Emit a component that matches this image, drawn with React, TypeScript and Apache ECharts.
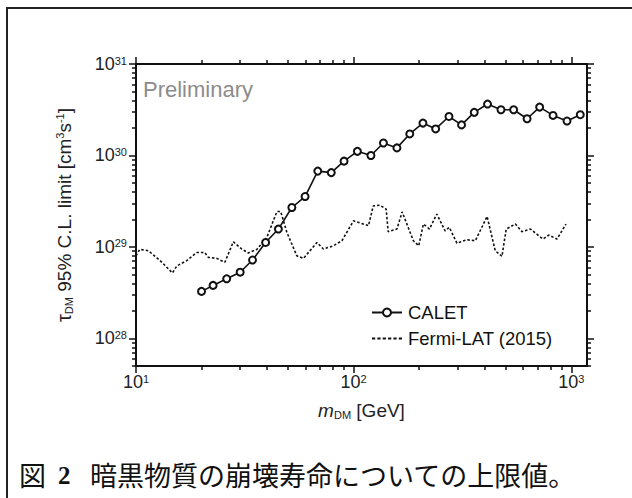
import React, { useEffect, useRef } from "react";
import * as echarts from "echarts";

// CALET 95% C.L. lower limit on DM lifetime
const calletMass = [20, 22.6, 26.1, 30.1, 34.3, 39.4, 45.1, 52.0, 59.8, 68.4, 78.9, 90.3, 104, 120, 137, 158, 181, 208, 238, 274, 313, 358, 412, 475, 543, 626, 715, 824, 955, 1099];
const calletLimit = [3.27e28, 3.8e28, 4.49e28, 5.3e28, 7.2e28, 1.12e29, 1.57e29, 2.7e29, 3.56e29, 6.75e29, 6.5e29, 8.67e29, 1.11e30, 1.0e30, 1.37e30, 1.21e30, 1.72e30, 2.26e30, 1.95e30, 2.67e30, 2.16e30, 2.96e30, 3.65e30, 3.16e30, 3.16e30, 2.52e30, 3.38e30, 2.74e30, 2.38e30, 2.79e30];

// Fermi-LAT (2015)
const fermiMass = [10, 10.4, 11.4, 12.9, 14.7, 15.4, 17.1, 19.0, 20.7, 21.5, 23.5, 25.6, 28.0, 30.6, 32.8, 35.9, 39.9, 44.4, 46.2, 49.3, 54.8, 58.8, 67.8, 72.6, 80.7, 88.3, 99.8, 117, 123, 132, 141, 144, 158, 167, 188, 199, 209, 223, 241, 263, 275, 298, 331, 362, 388, 410, 447, 480, 502, 553, 593, 648, 741, 787, 859, 945];
const fermiLimit = [8.0e28, 9.4e28, 9.1e28, 7.1e28, 5.2e28, 6.2e28, 7.1e28, 8.7e28, 8.7e28, 7.7e28, 7.5e28, 6.8e28, 1.14e29, 9.5e28, 8.6e28, 9.4e28, 1.27e29, 2.44e29, 2.44e29, 1.45e29, 8.0e28, 7.5e28, 1.12e29, 9.5e28, 1.03e29, 1.17e29, 1.93e29, 1.71e29, 2.81e29, 2.86e29, 2.59e29, 1.47e29, 1.57e29, 2.42e29, 1.17e29, 1.03e29, 1.78e29, 1.57e29, 2.29e29, 1.5e29, 1.64e29, 1.1e29, 1.2e29, 1.17e29, 1.64e29, 2.16e29, 9.1e28, 7.9e28, 1.57e29, 1.78e29, 1.47e29, 1.57e29, 1.22e29, 1.35e29, 1.22e29, 1.78e29];

const xRange = [10, 1180];
const yRange = [5e27, 1e31];
const xDecades = [1, 2, 3];
const yDecades = [28, 29, 30, 31];

const seriesNames = ["CALET", "Fermi-LAT (2015)"];

const FONT = "'Liberation Sans', Arial, sans-serif";
const DOTTED_ICON =
  "path://M0,0h3v2h-3z M5,0h3v2h-3z M10,0h3v2h-3z M15,0h3v2h-3z M20,0h3v2h-3z M25,0h3v2h-3z";

function minorTicks(lo: number, hi: number): number[] {
  const out: number[] = [];
  for (let d = Math.floor(lo) - 1; d <= Math.ceil(hi); d++) {
    for (let k = 2; k <= 9; k++) {
      const v = d + Math.log10(k);
      if (v >= lo - 1e-9 && v <= hi + 1e-9) out.push(v);
    }
  }
  return out;
}

export default function App() {
  const ref = useRef<HTMLDivElement>(null);
  useEffect(() => {
    if (!ref.current) return;
    const chart = echarts.init(ref.current, null, { renderer: "svg" });
    const xmin = Math.log10(xRange[0]);
    const xmax = Math.log10(xRange[1]);
    const ymin = Math.log10(yRange[0]);
    const ymax = Math.log10(yRange[1]);
    const xMinor = minorTicks(xmin, xmax);
    const yMinor = minorTicks(ymin, ymax);
    const supRich = {
      base: { fontSize: 18, fontFamily: FONT, color: "#222" },
      sup: { fontSize: 11, fontFamily: FONT, color: "#222", verticalAlign: "top", padding: [0, 0, 6, 0] },
    };
    const axisLine = { show: true, lineStyle: { color: "#111", width: 2 } };
    const mkX = (pos: string, ticks: number[], len: number, labels: boolean) => ({
      type: "value",
      position: pos,
      min: xmin,
      max: xmax,
      axisLine,
      splitLine: { show: false },
      axisTick: { show: true, customValues: ticks, length: len, inside: false, lineStyle: { color: "#111", width: 1.5 } },
      axisLabel: labels
        ? {
            show: true,
            customValues: xDecades,
            margin: 7,
            formatter: (v: number) => `{base|10}{sup|${Math.round(v)}}`,
            rich: supRich,
          }
        : { show: false },
    });
    const mkY = (pos: string, ticks: number[], len: number, labels: boolean) => ({
      type: "value",
      position: pos,
      min: ymin,
      max: ymax,
      axisLine,
      splitLine: { show: false },
      axisTick: { show: true, customValues: ticks, length: len, inside: false, lineStyle: { color: "#111", width: 1.5 } },
      axisLabel: labels
        ? {
            show: true,
            customValues: yDecades,
            margin: 9,
            formatter: (v: number) => `{base|10}{sup|${Math.round(v)}}`,
            rich: supRich,
          }
        : { show: false },
    });
    const xMain: any = mkX("bottom", xDecades, 7, true);
    xMain.name = "{m|m}{sub|DM} [GeV]";
    xMain.nameLocation = "middle";
    xMain.nameGap = 35;
    xMain.nameTextStyle = {
      fontSize: 19,
      fontFamily: FONT,
      color: "#222",
      rich: {
        m: { fontSize: 19, fontFamily: FONT, fontStyle: "italic", color: "#222" },
        sub: { fontSize: 11, fontFamily: FONT, color: "#222", verticalAlign: "bottom" },
      },
    };
    const yMain: any = mkY("left", yDecades, 7, true);
    yMain.name = "{t|τ}{sub|DM} 95% C.L. limit [cm{sup|3}s{sup|-1}]";
    yMain.nameLocation = "middle";
    yMain.nameRotate = 90;
    yMain.nameGap = 62;
    yMain.nameTextStyle = {
      fontSize: 19,
      fontFamily: FONT,
      color: "#222",
      rich: {
        t: { fontSize: 20, fontFamily: FONT, color: "#222" },
        sub: { fontSize: 11, fontFamily: FONT, color: "#222", verticalAlign: "bottom" },
        sup: { fontSize: 11, fontFamily: FONT, color: "#222", verticalAlign: "top" },
      },
    };

    const option: any = {
      animation: false,
      backgroundColor: "#fff",
      grid: { left: 136, right: 45, top: 64, bottom: 132, containLabel: false },
      xAxis: [
        xMain,
        mkX("bottom", xMinor, 4, false),
        mkX("top", xDecades, 7, false),
        mkX("top", xMinor, 4, false),
      ],
      yAxis: [
        yMain,
        mkY("left", yMinor, 4, false),
        mkY("right", yDecades, 7, false),
        mkY("right", yMinor, 4, false),
      ],
      legend: {
        orient: "vertical",
        left: 366,
        top: 298,
        itemWidth: 30,
        itemHeight: 10,
        itemGap: 7,
        data: [
          { name: seriesNames[0] },
          { name: seriesNames[1], icon: DOTTED_ICON, itemStyle: { color: "#111" } },
        ],
        textStyle: { fontSize: 18.5, fontFamily: FONT, color: "#111", padding: [0, 0, 0, 1] },
      },
      series: [
        {
          name: seriesNames[0],
          type: "line",
          xAxisIndex: 0,
          yAxisIndex: 0,
          data: calletMass.map((m, i) => [Math.log10(m), Math.log10(calletLimit[i])]),
          symbol: "emptyCircle",
          symbolSize: 7,
          itemStyle: { color: "#111", borderWidth: 1.3 },
          lineStyle: { color: "#111", width: 1.6 },
          z: 3,
        },
        {
          name: seriesNames[1],
          type: "line",
          xAxisIndex: 0,
          yAxisIndex: 0,
          data: fermiMass.map((m, i) => [Math.log10(m), Math.log10(fermiLimit[i])]),
          symbol: "none",
          itemStyle: { color: "#111" },
          lineStyle: { color: "#111", width: 1.6, type: [2.5, 2] },
          z: 2,
        },
      ],
      graphic: [
        {
          type: "rect",
          shape: { x: 7, y: 8, width: 700, height: 600 },
          style: { fill: "none", stroke: "#222", lineWidth: 2 },
          silent: true,
          z: 0,
        },
        {
          type: "text",
          x: 143,
          y: 89,
          style: { text: "Preliminary", fontSize: 22, fontFamily: FONT, fill: "#8c8c8c", verticalAlign: "middle", align: "left" },
        },
        {
          type: "text",
          x: 19,
          y: 474,
          style: { text: "図", fontSize: 27, fontFamily: "'Noto Sans CJK JP', sans-serif", fill: "#111", verticalAlign: "middle", align: "left" },
        },
        {
          type: "text",
          x: 58,
          y: 475,
          style: { text: "2", fontSize: 25, fontWeight: "bold", fontFamily: "'Liberation Serif', 'DejaVu Serif', serif", fill: "#111", verticalAlign: "middle", align: "left" },
        },
        {
          type: "text",
          x: 90,
          y: 474,
          style: { text: "暗黒物質の崩壊寿命についての上限値。", fontSize: 27, fontFamily: "'Noto Sans CJK JP', sans-serif", fill: "#111", verticalAlign: "middle", align: "left" },
        },
      ],
    };
    chart.setOption(option);
    return () => chart.dispose();
  }, []);
  return <div ref={ref} style={{ position: "absolute", left: 0, top: 0, width: 632, height: 498 }} />;
}
